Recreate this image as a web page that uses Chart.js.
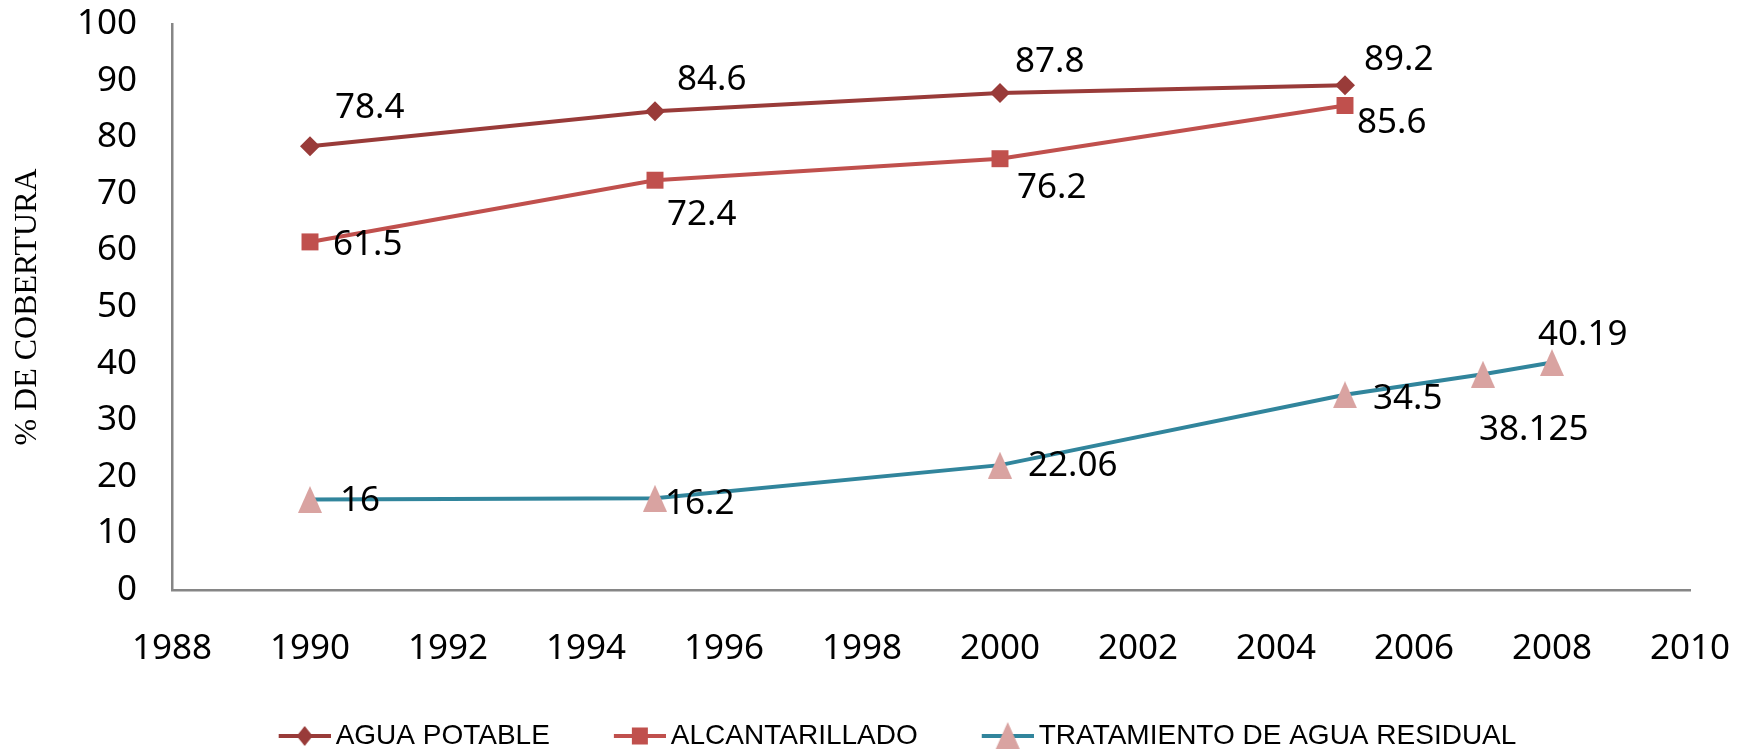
<!DOCTYPE html>
<html>
<head>
<meta charset="utf-8">
<script src="https://cdn.jsdelivr.net/npm/chart.js@4.4.0/dist/chart.umd.min.js"></script>
<style>
  html, body { margin: 0; padding: 0; background: #fff; }
  #wrap { width: 1745px; height: 749px; position: relative; }
</style>
</head>
<body>
<div id="wrap"><canvas id="coberturaChart"></canvas></div>
<script>
// Datos de cobertura
const aguaYears = [1990, 1995, 2000, 2005];
const aguaValues = [78.4, 84.6, 87.8, 89.2];
const alcantYears = [1990, 1995, 2000, 2005];
const alcantValues = [61.5, 72.4, 76.2, 85.6];
const tratYears = [1990, 1995, 2000, 2005, 2007, 2008];
const tratValues = [16, 16.2, 22.06, 34.5, 38.125, 40.19];
const seriesNames = ['AGUA POTABLE', 'ALCANTARILLADO', 'TRATAMIENTO DE AGUA RESIDUAL'];
const yTitle = '% DE COBERTURA';

// Colores
const C_AGUA = '#993B39';
const C_ALC = '#C0504D';
const C_TRAT = '#31859C';
const C_TRI = '#D9A3A1';

// desplazamiento de las etiquetas de valor (px), por serie y punto
const labelOffsets = [
    [[25, -38], [22, -31], [15, -31], [19, -25]],
    [[23, 3], [12, 35], [17, 29], [12, 18]],
    [[30, 2], [10, 6], [28, 1], [28, 4], [-4, 56], [-14, -27]]
];

const toXY = (xs, ys) => xs.map((x, i) => ({ x: x, y: ys[i] }));

// leyenda: línea de 52px con marcador, separación como en Excel
const legendFont = { family: '"Liberation Sans"', size: 28 };
const legendPad = 1;
const boxW = Math.round(121 - legendPad - legendFont.size / 2);
const iconW = boxW + legendFont.size - 10;
// el primer icono empieza dentro de su caja: corregir el centro
const legendCenter = 897 - (boxW + legendFont.size / 2 - 57 - legendPad) / 2;
const plotBottom = 590;

// marcadores
function triangleMarker(w, h, color) {
    const c = document.createElement('canvas');
    c.width = w; c.height = h;
    const g = c.getContext('2d');
    g.fillStyle = color;
    g.beginPath();
    g.moveTo(w / 2, 0); g.lineTo(w, h); g.lineTo(0, h);
    g.closePath(); g.fill();
    return c;
}
const triMarker = triangleMarker(24, 27, C_TRI);

function legendIcon(lineColor, kind) {
    const h = 30;
    const c = document.createElement('canvas');
    c.width = iconW; c.height = h;
    const g = c.getContext('2d');
    const x0 = iconW - 52, x1 = iconW, cx = (x0 + x1) / 2, cy = h / 2;
    g.strokeStyle = lineColor;
    g.lineWidth = 4;
    g.beginPath(); g.moveTo(x0, cy); g.lineTo(x1, cy); g.stroke();
    if (kind === 'diamond') {
        g.fillStyle = C_AGUA;
        g.beginPath();
        g.moveTo(cx, cy - 10); g.lineTo(cx + 8, cy); g.lineTo(cx, cy + 10); g.lineTo(cx - 8, cy);
        g.closePath(); g.fill();
    } else if (kind === 'square') {
        g.fillStyle = C_ALC;
        g.fillRect(cx - 8, cy - 8.5, 16, 17);
    } else {
        g.drawImage(triMarker, cx - 12, cy - 14);
    }
    return c;
}
const legendIcons = [
    legendIcon(C_AGUA, 'diamond'),
    legendIcon(C_ALC, 'square'),
    legendIcon(C_TRAT, 'tri')
];

// etiquetas de valores
const valueLabels = {
    id: 'valueLabels',
    afterDatasetsDraw(chart, args, opts) {
        const ctx = chart.ctx;
        ctx.save();
        ctx.font = opts.font;
        ctx.fillStyle = opts.color;
        ctx.textAlign = 'left';
        ctx.textBaseline = 'middle';
        chart.data.datasets.forEach((ds, i) => {
            const meta = chart.getDatasetMeta(i);
            meta.data.forEach((pt, j) => {
                const off = opts.offsets[i][j];
                ctx.fillText(String(ds.data[j].y), pt.x + off[0], pt.y + off[1]);
            });
        });
        ctx.restore();
    }
};

// colocar la leyenda como en el original
const legendShift = {
    id: 'legendShift',
    afterLayout(chart, args, opts) {
        const l = chart.legend;
        if (!l) return;
        const d = opts.center - (l.left + l.right) / 2;
        l.left += d; l.right += d;
        l.top += opts.dy; l.bottom += opts.dy;
    }
};

const tickFont = { family: '"Noto Sans"', size: 35 };

const ctx = document.getElementById('coberturaChart').getContext('2d');
const chart = new Chart(ctx, {
    type: 'line',
    data: {
        datasets: [{
            label: seriesNames[0],
            data: toXY(aguaYears, aguaValues),
            borderColor: C_AGUA,
            backgroundColor: C_AGUA,
            borderWidth: 4,
            pointStyle: 'rectRot',
            pointRadius: 10,
            pointBorderWidth: 0,
            tension: 0
        }, {
            label: seriesNames[1],
            data: toXY(alcantYears, alcantValues),
            borderColor: C_ALC,
            backgroundColor: C_ALC,
            borderWidth: 4,
            pointStyle: 'rect',
            pointRadius: 12,
            pointBorderWidth: 0,
            tension: 0
        }, {
            label: seriesNames[2],
            data: toXY(tratYears, tratValues),
            borderColor: C_TRAT,
            backgroundColor: C_TRI,
            borderWidth: 4,
            pointStyle: triMarker,
            pointRadius: 12,
            tension: 0
        }]
    },
    options: {
        responsive: true,
        maintainAspectRatio: false,
        animation: false,
        events: [],
        layout: { padding: { top: 24, right: 55, bottom: 0, left: 0 } },
        scales: {
            x: {
                type: 'linear',
                min: 1988,
                max: 2010,
                ticks: { stepSize: 2, padding: 38, color: '#000', font: tickFont, callback: v => String(v), maxRotation: 0 },
                grid: { display: false, drawTicks: false },
                border: { display: true, color: '#868686', width: 2.5 },
                afterFit: s => {
                    const lh = s.chart.legend ? s.chart.legend.height : 0;
                    s.height = s.chart.height - lh - plotBottom;
                    s.paddingLeft = 0; s.paddingRight = 0;
                }
            },
            y: {
                min: 0,
                max: 100,
                ticks: { stepSize: 10, padding: 35, color: '#000', font: tickFont },
                grid: { display: false, drawTicks: false },
                border: { display: true, color: '#868686', width: 2.5 },
                title: {
                    display: true,
                    text: yTitle,
                    color: '#000',
                    font: { family: '"Liberation Serif"', size: 32 },
                    padding: { top: 8, bottom: 0 }
                },
                afterFit: s => {
                    s.width = 172;
                    s.paddingTop = 0; s.paddingBottom = 0;
                }
            }
        },
        plugins: {
            tooltip: { enabled: false },
            legend: {
                position: 'bottom',
                labels: {
                    usePointStyle: true,
                    pointStyleWidth: boxW,
                    padding: legendPad,
                    color: '#000',
                    font: legendFont,
                    generateLabels: chart => {
                        const items = Chart.defaults.plugins.legend.labels.generateLabels(chart);
                        items.forEach((it, i) => { it.pointStyle = legendIcons[i]; });
                        return items;
                    }
                }
            },
            legendShift: { center: legendCenter, dy: 11 },
            valueLabels: {
                font: '35px "Noto Sans"',
                color: '#000',
                offsets: labelOffsets
            }
        }
    },
    plugins: [valueLabels, legendShift]
});
</script>
</body>
</html>
